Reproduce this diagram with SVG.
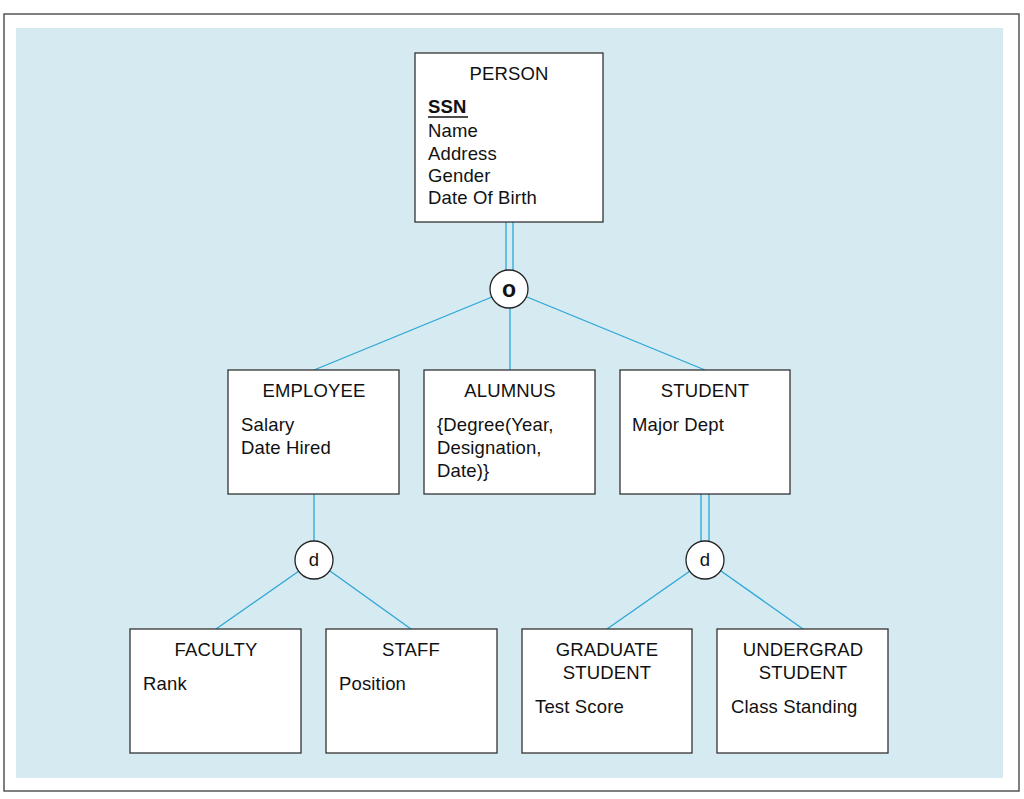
<svg xmlns="http://www.w3.org/2000/svg" width="1024" height="799" viewBox="0 0 1024 799">
<style>
.box{fill:#fff;stroke:#333;stroke-width:1.3}
.t{font-family:"Liberation Sans",Arial,sans-serif;font-size:18.5px;letter-spacing:0.15px;fill:#111}
.c{text-anchor:middle}
.ln{stroke:#2aa6d6;stroke-width:1.3;fill:none}
.circ{fill:#fff;stroke:#222;stroke-width:1.3}
</style>
<rect x="4" y="14" width="1015" height="777" fill="#fff" stroke="#555" stroke-width="1.5"/>
<rect x="16" y="28" width="987" height="750" fill="#d6eaf2"/>
<g id="connectors">
<line class="ln" x1="506" y1="222" x2="506" y2="271"/>
<line class="ln" x1="513" y1="222" x2="513" y2="271"/>
<line class="ln" x1="492" y1="297" x2="314" y2="370"/>
<line class="ln" x1="510" y1="308" x2="510" y2="370"/>
<line class="ln" x1="527" y1="297" x2="705" y2="370"/>
<line class="ln" x1="314" y1="494" x2="314" y2="541"/>
<line class="ln" x1="299" y1="571" x2="216" y2="629"/>
<line class="ln" x1="330" y1="571" x2="411" y2="629"/>
<line class="ln" x1="701" y1="494" x2="701" y2="542"/>
<line class="ln" x1="709" y1="494" x2="709" y2="542"/>
<line class="ln" x1="690" y1="571" x2="607" y2="629"/>
<line class="ln" x1="721" y1="571" x2="803" y2="629"/>
</g>
<g id="overlap">
<circle class="circ" cx="509" cy="289" r="19"/>
<text class="t c" x="509" y="297" font-weight="bold" style="font-size:23px">o</text>
</g>
<g id="disjoint1">
<circle class="circ" cx="314" cy="560" r="19"/>
<text class="t c" x="314" y="566">d</text>
</g>
<g id="disjoint2">
<circle class="circ" cx="705" cy="560" r="19"/>
<text class="t c" x="705" y="566">d</text>
</g>
<g id="person">
<rect class="box" x="415" y="53" width="188" height="169"/>
<text class="t c" x="509" y="80">PERSON</text>
<text class="t" x="428" y="113" font-weight="bold">SSN</text>
<line x1="428" y1="117" x2="468" y2="117" stroke="#111" stroke-width="1.3"/>
<text class="t" x="428" y="137">Name</text>
<text class="t" x="428" y="160">Address</text>
<text class="t" x="428" y="182">Gender</text>
<text class="t" x="428" y="204">Date Of Birth</text>
</g>
<g id="employee">
<rect class="box" x="228" y="370" width="171" height="124"/>
<text class="t c" x="314" y="397">EMPLOYEE</text>
<text class="t" x="241" y="431">Salary</text>
<text class="t" x="241" y="454">Date Hired</text>
</g>
<g id="alumnus">
<rect class="box" x="424" y="370" width="171" height="124"/>
<text class="t c" x="510" y="397">ALUMNUS</text>
<text class="t" x="437" y="431">{Degree(Year,</text>
<text class="t" x="437" y="454">Designation,</text>
<text class="t" x="437" y="477">Date)}</text>
</g>
<g id="student">
<rect class="box" x="620" y="370" width="170" height="124"/>
<text class="t c" x="705" y="397">STUDENT</text>
<text class="t" x="632" y="431">Major Dept</text>
</g>
<g id="faculty">
<rect class="box" x="130" y="629" width="171" height="124"/>
<text class="t c" x="216" y="656">FACULTY</text>
<text class="t" x="143" y="690">Rank</text>
</g>
<g id="staff">
<rect class="box" x="326" y="629" width="171" height="124"/>
<text class="t c" x="411" y="656">STAFF</text>
<text class="t" x="339" y="690">Position</text>
</g>
<g id="graduate">
<rect class="box" x="522" y="629" width="170" height="124"/>
<text class="t c" x="607" y="656">GRADUATE</text>
<text class="t c" x="607" y="679">STUDENT</text>
<text class="t" x="535" y="713">Test Score</text>
</g>
<g id="undergrad">
<rect class="box" x="717" y="629" width="171" height="124"/>
<text class="t c" x="803" y="656">UNDERGRAD</text>
<text class="t c" x="803" y="679">STUDENT</text>
<text class="t" x="731" y="713">Class Standing</text>
</g>
</svg>
